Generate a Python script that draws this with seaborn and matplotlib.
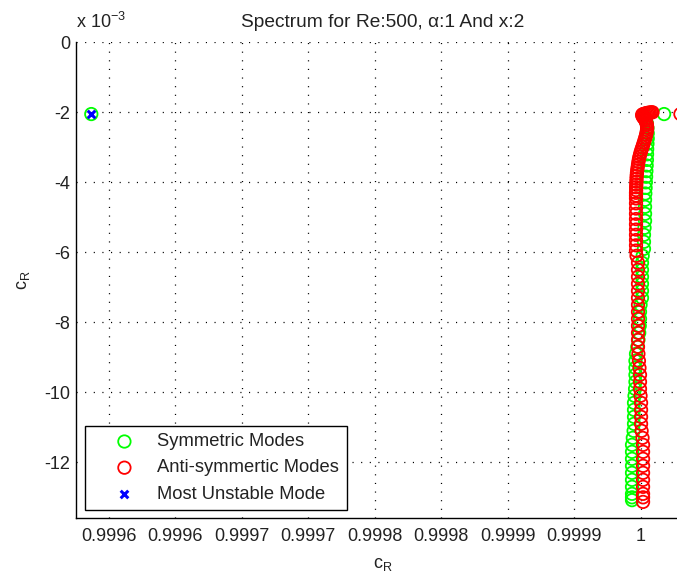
import numpy as np
import pandas as pd
import matplotlib
matplotlib.use("Agg")
import matplotlib.pyplot as plt
import seaborn as sns

title = "Spectrum for Re:500, α:1 And x:2"
series_names = ["Symmetric Modes", "Anti-symmertic Modes", "Most Unstable Mode"]

# c_R given as (c_R - 1) * 1e6 ; c_I given in units of 1e-3
sym_cr_off = [
    -413.0, 17.7, 3.0, 4.0, 4.8, 5.2, 5.4, 5.4, 5.2, 5.0,
    4.9, 4.8, 4.6, 4.4, 4.2, 4.0, 3.8, 3.6, 3.4, 3.4,
    3.4, 3.4, 3.0, 2.6, 2.6, 2.6, 1.6, 1.1, 1.1, 1.1,
    1.1, 1.1, 1.1, 0.0, -0.4, -0.4, -0.6, -1.0, -1.6, -2.4,
    -3.4, -3.8, -3.8, -3.8, -3.8, -4.1, -4.5, -4.9, -4.9, -4.9,
    -4.9, -5.2, -5.8, -6.4, -6.4, -6.4, -6.4, -6.4, -6.4, -6.4,
    -6.4, -6.4, -6.4]
sym_ci = [
    -2.05, -2.05, -2.10, -2.20, -2.32, -2.45, -2.60, -2.75, -2.90, -3.05,
    -3.20, -3.36, -3.52, -3.68, -3.84, -4.00, -4.16, -4.32, -4.50, -4.70,
    -4.90, -5.10, -5.30, -5.50, -5.70, -5.90, -6.10, -6.30, -6.50, -6.70,
    -6.90, -7.10, -7.30, -7.50, -7.70, -7.90, -8.10, -8.30, -8.50, -8.70,
    -8.90, -9.10, -9.30, -9.50, -9.70, -9.90, -10.10, -10.30, -10.50, -10.70,
    -10.90, -11.10, -11.30, -11.50, -11.70, -11.90, -12.10, -12.30, -12.50, -12.70,
    -12.90, -13.00, -13.08]

anti_cr_off = [
    9.0, 8.0, 7.0, 6.0, 5.0, 4.0, 3.0, 2.0, 1.2, 1.5,
    2.2, 3.0, 3.8, 4.4, 4.8, 5.0, 4.9, 4.6, 4.2, 3.7,
    3.2, 2.6, 2.0, 1.4, 0.8, 0.2, -0.3, -0.8, -1.2, -1.6,
    -1.9, -2.2, -2.5, -2.7, -2.9, -3.0, -3.1, -3.2, -3.3, -3.3,
    -3.4, -3.4, -3.4, -3.4, -3.4, -3.4, -3.4, -3.4, -3.4, -3.4,
    -3.4, -3.4, -3.4, -3.0, -1.9, -1.9, -1.9, -1.9, -1.9, -1.9,
    -1.9, -1.9, -1.9, -1.9, -1.9, -1.9, -1.9, -1.6, -1.2, -0.8,
    -0.4, -0.4, -0.4, 0.0, 0.4, 0.4, 0.4, 0.4, 0.8, 1.5,
    1.9, 1.9, 1.9, 1.9, 1.9, 1.9, 1.9, 1.9, 1.9, 1.9,
    30.0]
anti_ci = [
    -2.00, -2.00, -2.01, -2.01, -2.02, -2.03, -2.04, -2.05, -2.07, -2.11,
    -2.15, -2.19, -2.24, -2.30, -2.36, -2.43, -2.50, -2.57, -2.64, -2.71,
    -2.78, -2.85, -2.92, -2.99, -3.06, -3.13, -3.20, -3.27, -3.34, -3.42,
    -3.50, -3.58, -3.66, -3.74, -3.82, -3.90, -3.98, -4.06, -4.14, -4.22,
    -4.30, -4.38, -4.46, -4.60, -4.75, -4.90, -5.05, -5.20, -5.35, -5.50,
    -5.65, -5.80, -5.95, -6.10, -6.30, -6.50, -6.70, -6.90, -7.10, -7.30,
    -7.50, -7.70, -7.90, -8.10, -8.30, -8.50, -8.70, -8.90, -9.10, -9.30,
    -9.50, -9.70, -9.90, -10.10, -10.30, -10.50, -10.70, -10.90, -11.10, -11.30,
    -11.50, -11.70, -11.90, -12.10, -12.30, -12.50, -12.70, -12.90, -13.00, -13.13,
    -2.05]

mu_cr_off = [-413.0]
mu_ci = [-2.05]

xtick_values = [0.9996, 0.99965, 0.9997, 0.99975, 0.9998, 0.99985, 0.9999, 0.99995, 1.0]
xtick_labels = ["0.9996", "0.9996", "0.9997", "0.9997", "0.9998", "0.9998", "0.9999", "0.9999", "1"]
ytick_values = [0, -2, -4, -6, -8, -10, -12]
ytick_labels = ["0", "-2", "-4", "-6", "-8", "-10", "-12"]


def frame(off, ci, name):
    return pd.DataFrame({"cr": 1.0 + np.array(off) * 1e-6,
                         "ci": np.array(ci) * 1e-3,
                         "kind": name})


df_sym = frame(sym_cr_off, sym_ci, series_names[0])
df_anti = frame(anti_cr_off, anti_ci, series_names[1])
df_mu = frame(mu_cr_off, mu_ci, series_names[2])

sns.set_theme(style="white")
plt.rcParams["font.family"] = ["Liberation Sans", "DejaVu Sans"]
plt.rcParams["mathtext.default"] = "regular"
FS = 13.0
TXT = "#222222"

W, H = 677, 577
fig = plt.figure(figsize=(W / 100, H / 100), dpi=100)
ax_l, ax_r, ax_t, ax_b = 76, 690, 42.3, 518
ax = fig.add_axes([ax_l / W, 1 - ax_b / H, (ax_r - ax_l) / W, (ax_b - ax_t) / H])

green = (0.0, 1.0, 0.0)
red = (1.0, 0.0, 0.0)
blue = (0.0, 0.0, 1.0)

sns.scatterplot(data=df_sym, x="cr", y="ci", marker="o", s=80, color=green,
                facecolor="none", edgecolor=green, linewidth=1.3, ax=ax,
                label=series_names[0], zorder=3)
sns.scatterplot(data=df_anti, x="cr", y="ci", marker="o", s=80, color=red,
                facecolor="none", edgecolor=red, linewidth=1.3, ax=ax,
                label=series_names[1], zorder=4)
sns.scatterplot(data=df_mu, x="cr", y="ci", marker="x", s=30, color=blue,
                linewidth=2.2, ax=ax, label=series_names[2], zorder=5)

ax.set_xlim(1 - 424.5e-6, 1 + 37.2e-6)
ax.set_ylim(-13.59e-3, 0)
ax.set_xticks(xtick_values, xtick_labels)
ax.set_yticks([v * 1e-3 for v in ytick_values], ytick_labels)
ax.tick_params(axis="both", direction="in", length=5, width=1, color="black",
               labelsize=FS, labelcolor=TXT)
ax.tick_params(axis="x", pad=7)
ax.tick_params(axis="y", pad=4)

ax.grid(True, linestyle=(0, (0.9, 6)), color="black", linewidth=0.9)
ax.set_axisbelow(True)
sns.despine(ax=ax, top=True, right=True)
for sp in ["left", "bottom"]:
    ax.spines[sp].set_color("black")
    ax.spines[sp].set_linewidth(1.0)

ax.set_title(title, fontsize=13.8, pad=11, color=TXT)
ax.set_xlabel("c$_R$", fontsize=FS, labelpad=8, color=TXT)
ax.set_ylabel("c$_R$", fontsize=FS, labelpad=9, color=TXT)

fig.text(ax_l / W, 1 - 28 / H, "x 10$^{-3}$", fontsize=FS, ha="left",
         va="baseline", color=TXT)

leg = ax.legend(loc="lower left", bbox_to_anchor=(85 / W, 1 - 510 / H),
                bbox_transform=fig.transFigure, borderaxespad=0, fontsize=13.2,
                frameon=True, fancybox=False, shadow=False, edgecolor="black",
                framealpha=1, borderpad=0.4, handlelength=3.5,
                handletextpad=0.05, labelspacing=0.5, scatterpoints=1)
leg.get_frame().set_linewidth(1.0)
for t in leg.get_texts():
    t.set_color(TXT)

fig.savefig("out.png", dpi=100)
